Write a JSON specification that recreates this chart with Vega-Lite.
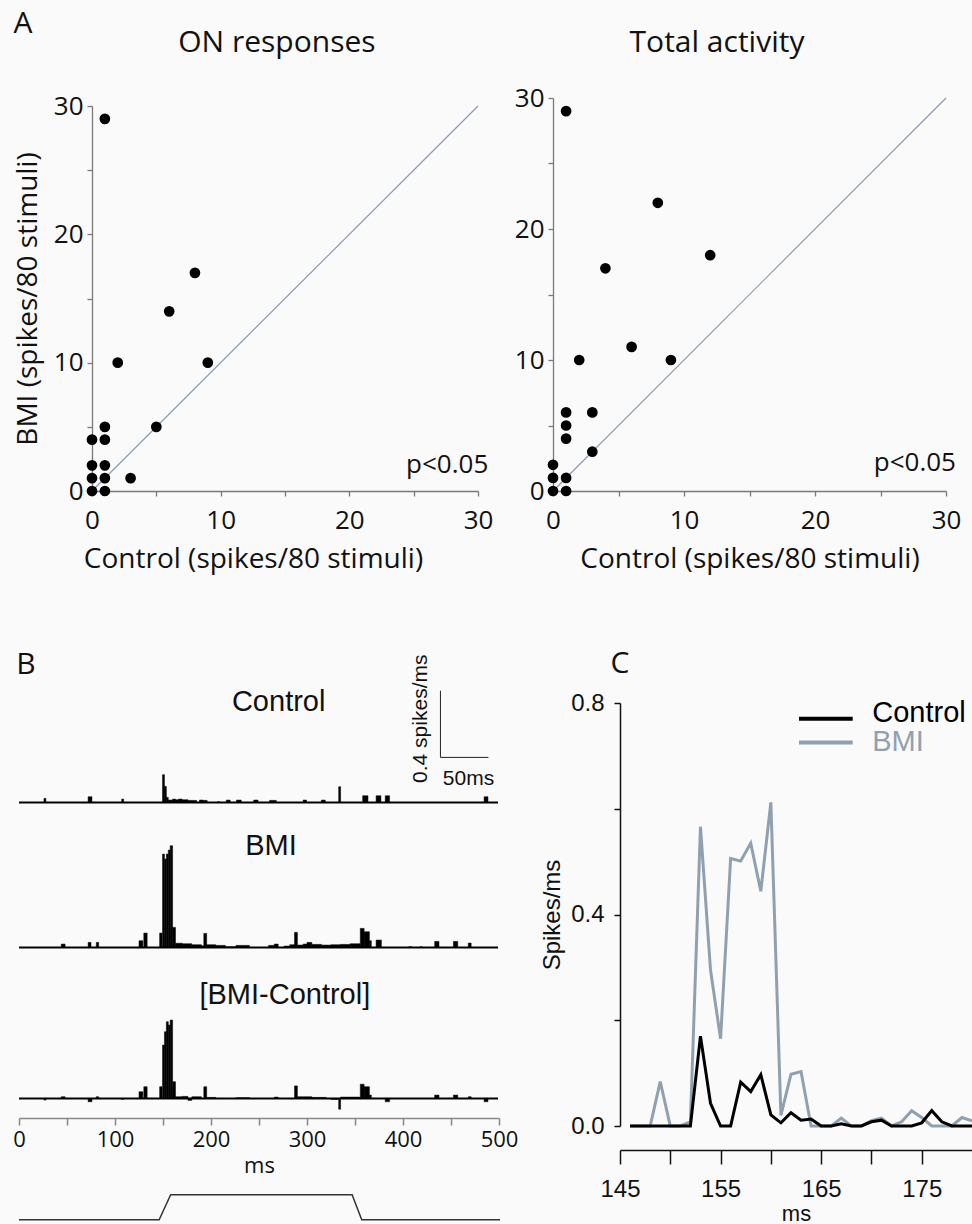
{
  "$schema": "https://vega.github.io/schema/vega-lite/v6.json",
  "background": "#fafafa",
  "padding": {"left": 12, "top": 8, "right": 0, "bottom": 0},
  "autosize": {"type": "pad"},
  "bounds": "flush",
  "columns": 2,
  "spacing": {"row": 212, "column": 54},
  "config": {
    "view": {"stroke": null},
    "font": "Open Sans",
    "axis": {"grid": false, "labelColor": "#111", "titleColor": "#111", "titleFontWeight": "normal", "labelOverlap": false, "labelFlush": false}
  },
  "datasets": {
    "on": [
      {"control": 1, "bmi": 29}, {"control": 8, "bmi": 17}, {"control": 6, "bmi": 14}, {"control": 2, "bmi": 10},
      {"control": 9, "bmi": 10}, {"control": 5, "bmi": 5}, {"control": 1, "bmi": 5}, {"control": 0, "bmi": 4},
      {"control": 1, "bmi": 4}, {"control": 0, "bmi": 2}, {"control": 1, "bmi": 2}, {"control": 0, "bmi": 1},
      {"control": 1, "bmi": 1}, {"control": 3, "bmi": 1}, {"control": 0, "bmi": 0}, {"control": 1, "bmi": 0}
    ],
    "total": [
      {"control": 1, "bmi": 29}, {"control": 8, "bmi": 22}, {"control": 12, "bmi": 18}, {"control": 4, "bmi": 17},
      {"control": 6, "bmi": 11}, {"control": 2, "bmi": 10}, {"control": 9, "bmi": 10}, {"control": 1, "bmi": 6},
      {"control": 3, "bmi": 6}, {"control": 1, "bmi": 5}, {"control": 1, "bmi": 4}, {"control": 3, "bmi": 3},
      {"control": 0, "bmi": 2}, {"control": 0, "bmi": 1}, {"control": 1, "bmi": 1}, {"control": 0, "bmi": 0},
      {"control": 1, "bmi": 0}
    ],
    "psth": [
      {"cond": "Control", "t0": 26, "t1": 28, "v": 0.024}, {"cond": "Control", "t0": 72, "t1": 76, "v": 0.034},
      {"cond": "Control", "t0": 107, "t1": 109, "v": 0.02}, {"cond": "Control", "t0": 149.5, "t1": 151.5, "v": 0.166},
      {"cond": "Control", "t0": 151.5, "t1": 153.5, "v": 0.096}, {"cond": "Control", "t0": 153.5, "t1": 155.5, "v": 0.03},
      {"cond": "Control", "t0": 155.5, "t1": 160, "v": 0.014}, {"cond": "Control", "t0": 160, "t1": 163, "v": 0.02},
      {"cond": "Control", "t0": 163, "t1": 166, "v": 0.016}, {"cond": "Control", "t0": 166, "t1": 170, "v": 0.02},
      {"cond": "Control", "t0": 170, "t1": 176, "v": 0.016}, {"cond": "Control", "t0": 176, "t1": 185, "v": 0.012},
      {"cond": "Control", "t0": 188, "t1": 192, "v": 0.014}, {"cond": "Control", "t0": 192, "t1": 196, "v": 0.012},
      {"cond": "Control", "t0": 207, "t1": 209, "v": 0.004}, {"cond": "Control", "t0": 216, "t1": 220, "v": 0.014},
      {"cond": "Control", "t0": 226.5, "t1": 231.5, "v": 0.014}, {"cond": "Control", "t0": 244.5, "t1": 249, "v": 0.014},
      {"cond": "Control", "t0": 261, "t1": 268, "v": 0.012}, {"cond": "Control", "t0": 296, "t1": 299.5, "v": 0.014},
      {"cond": "Control", "t0": 315, "t1": 319, "v": 0.014}, {"cond": "Control", "t0": 333, "t1": 335, "v": 0.094},
      {"cond": "Control", "t0": 358, "t1": 363.5, "v": 0.04}, {"cond": "Control", "t0": 372, "t1": 377, "v": 0.04},
      {"cond": "Control", "t0": 381.5, "t1": 386, "v": 0.04}, {"cond": "Control", "t0": 484.5, "t1": 488.5, "v": 0.034},
      {"cond": "BMI", "t0": 44, "t1": 48, "v": 0.02}, {"cond": "BMI", "t0": 72, "t1": 75, "v": 0.03},
      {"cond": "BMI", "t0": 80.5, "t1": 83, "v": 0.03}, {"cond": "BMI", "t0": 125, "t1": 129, "v": 0.04},
      {"cond": "BMI", "t0": 130, "t1": 133.5, "v": 0.086}, {"cond": "BMI", "t0": 146.5, "t1": 149, "v": 0.086},
      {"cond": "BMI", "t0": 149.5, "t1": 151.5, "v": 0.56}, {"cond": "BMI", "t0": 151.5, "t1": 153.5, "v": 0.53},
      {"cond": "BMI", "t0": 153.5, "t1": 155.5, "v": 0.56}, {"cond": "BMI", "t0": 155.5, "t1": 157.5, "v": 0.584},
      {"cond": "BMI", "t0": 157.5, "t1": 160, "v": 0.61}, {"cond": "BMI", "t0": 160, "t1": 163, "v": 0.12},
      {"cond": "BMI", "t0": 163, "t1": 170, "v": 0.025}, {"cond": "BMI", "t0": 170, "t1": 180, "v": 0.022},
      {"cond": "BMI", "t0": 180, "t1": 190, "v": 0.016}, {"cond": "BMI", "t0": 190, "t1": 192.5, "v": 0.01},
      {"cond": "BMI", "t0": 192.5, "t1": 195.5, "v": 0.084}, {"cond": "BMI", "t0": 195.5, "t1": 205, "v": 0.016},
      {"cond": "BMI", "t0": 205, "t1": 215, "v": 0.012}, {"cond": "BMI", "t0": 215, "t1": 226, "v": 0.004},
      {"cond": "BMI", "t0": 226, "t1": 240, "v": 0.012}, {"cond": "BMI", "t0": 260, "t1": 266, "v": 0.012},
      {"cond": "BMI", "t0": 266, "t1": 270, "v": 0.02}, {"cond": "BMI", "t0": 276, "t1": 282, "v": 0.008},
      {"cond": "BMI", "t0": 282, "t1": 287, "v": 0.016}, {"cond": "BMI", "t0": 287, "t1": 290, "v": 0.09},
      {"cond": "BMI", "t0": 290, "t1": 296, "v": 0.014}, {"cond": "BMI", "t0": 296, "t1": 300, "v": 0.02},
      {"cond": "BMI", "t0": 300, "t1": 305, "v": 0.03}, {"cond": "BMI", "t0": 305, "t1": 315, "v": 0.018},
      {"cond": "BMI", "t0": 315, "t1": 325, "v": 0.014}, {"cond": "BMI", "t0": 325, "t1": 335, "v": 0.016},
      {"cond": "BMI", "t0": 335, "t1": 345, "v": 0.018}, {"cond": "BMI", "t0": 345, "t1": 355.5, "v": 0.022},
      {"cond": "BMI", "t0": 355.5, "t1": 359.5, "v": 0.114}, {"cond": "BMI", "t0": 359.5, "t1": 365, "v": 0.094},
      {"cond": "BMI", "t0": 365, "t1": 367, "v": 0.04}, {"cond": "BMI", "t0": 372, "t1": 377.5, "v": 0.044},
      {"cond": "BMI", "t0": 406, "t1": 409, "v": 0.004}, {"cond": "BMI", "t0": 418, "t1": 420, "v": 0.004},
      {"cond": "BMI", "t0": 433, "t1": 437.5, "v": 0.036}, {"cond": "BMI", "t0": 452.5, "t1": 457, "v": 0.036},
      {"cond": "BMI", "t0": 468, "t1": 471, "v": 0.026},
      {"cond": "Diff", "t0": 26, "t1": 28, "v": -0.01}, {"cond": "Diff", "t0": 44, "t1": 48, "v": 0.01},
      {"cond": "Diff", "t0": 72, "t1": 76, "v": -0.02}, {"cond": "Diff", "t0": 80.5, "t1": 83, "v": 0.01},
      {"cond": "Diff", "t0": 107, "t1": 109, "v": -0.006}, {"cond": "Diff", "t0": 125, "t1": 129, "v": 0.04},
      {"cond": "Diff", "t0": 130, "t1": 133.5, "v": 0.07}, {"cond": "Diff", "t0": 146.5, "t1": 149, "v": 0.07},
      {"cond": "Diff", "t0": 149.5, "t1": 151.5, "v": 0.32}, {"cond": "Diff", "t0": 151.5, "t1": 153.5, "v": 0.4},
      {"cond": "Diff", "t0": 153.5, "t1": 155.5, "v": 0.46}, {"cond": "Diff", "t0": 155.5, "t1": 157.5, "v": 0.44},
      {"cond": "Diff", "t0": 157.5, "t1": 160, "v": 0.47}, {"cond": "Diff", "t0": 160, "t1": 163, "v": 0.1},
      {"cond": "Diff", "t0": 163, "t1": 170, "v": 0.01}, {"cond": "Diff", "t0": 170, "t1": 176, "v": 0.012},
      {"cond": "Diff", "t0": 176, "t1": 180, "v": -0.012}, {"cond": "Diff", "t0": 180, "t1": 190, "v": 0.01},
      {"cond": "Diff", "t0": 192.5, "t1": 195.5, "v": 0.07}, {"cond": "Diff", "t0": 195.5, "t1": 205, "v": 0.006},
      {"cond": "Diff", "t0": 226, "t1": 240, "v": 0.004}, {"cond": "Diff", "t0": 266, "t1": 270, "v": 0.008},
      {"cond": "Diff", "t0": 287, "t1": 290, "v": 0.075}, {"cond": "Diff", "t0": 290, "t1": 305, "v": 0.01},
      {"cond": "Diff", "t0": 305, "t1": 320, "v": 0.006}, {"cond": "Diff", "t0": 325, "t1": 332, "v": -0.006},
      {"cond": "Diff", "t0": 333, "t1": 335, "v": -0.065}, {"cond": "Diff", "t0": 335, "t1": 355, "v": 0.008},
      {"cond": "Diff", "t0": 355.5, "t1": 359.5, "v": 0.085}, {"cond": "Diff", "t0": 359.5, "t1": 365, "v": 0.07},
      {"cond": "Diff", "t0": 365, "t1": 367, "v": 0.02}, {"cond": "Diff", "t0": 381.5, "t1": 386, "v": -0.02},
      {"cond": "Diff", "t0": 433, "t1": 437.5, "v": 0.02}, {"cond": "Diff", "t0": 452.5, "t1": 457, "v": 0.02},
      {"cond": "Diff", "t0": 468, "t1": 471, "v": 0.01}, {"cond": "Diff", "t0": 484.5, "t1": 488.5, "v": -0.02}
    ],
    "psthc": [
      {"ms": 146, "cond": "Control", "rate": 0}, {"ms": 147, "cond": "Control", "rate": 0}, {"ms": 148, "cond": "Control", "rate": 0},
      {"ms": 149, "cond": "Control", "rate": 0}, {"ms": 150, "cond": "Control", "rate": 0}, {"ms": 151, "cond": "Control", "rate": 0},
      {"ms": 152, "cond": "Control", "rate": 0}, {"ms": 153, "cond": "Control", "rate": 0.17}, {"ms": 154, "cond": "Control", "rate": 0.043},
      {"ms": 155, "cond": "Control", "rate": 0}, {"ms": 156, "cond": "Control", "rate": 0}, {"ms": 157, "cond": "Control", "rate": 0.083},
      {"ms": 158, "cond": "Control", "rate": 0.065}, {"ms": 159, "cond": "Control", "rate": 0.097}, {"ms": 160, "cond": "Control", "rate": 0.021},
      {"ms": 161, "cond": "Control", "rate": 0.006}, {"ms": 162, "cond": "Control", "rate": 0.025}, {"ms": 163, "cond": "Control", "rate": 0.011},
      {"ms": 164, "cond": "Control", "rate": 0.013}, {"ms": 165, "cond": "Control", "rate": 0}, {"ms": 166, "cond": "Control", "rate": 0},
      {"ms": 167, "cond": "Control", "rate": 0.004}, {"ms": 168, "cond": "Control", "rate": 0}, {"ms": 169, "cond": "Control", "rate": 0},
      {"ms": 170, "cond": "Control", "rate": 0.008}, {"ms": 171, "cond": "Control", "rate": 0.011}, {"ms": 172, "cond": "Control", "rate": 0},
      {"ms": 173, "cond": "Control", "rate": 0}, {"ms": 174, "cond": "Control", "rate": 0}, {"ms": 175, "cond": "Control", "rate": 0.006},
      {"ms": 176, "cond": "Control", "rate": 0.029}, {"ms": 177, "cond": "Control", "rate": 0.008}, {"ms": 178, "cond": "Control", "rate": 0},
      {"ms": 179, "cond": "Control", "rate": 0}, {"ms": 180, "cond": "Control", "rate": 0},
      {"ms": 146, "cond": "BMI", "rate": 0}, {"ms": 147, "cond": "BMI", "rate": 0}, {"ms": 148, "cond": "BMI", "rate": 0},
      {"ms": 149, "cond": "BMI", "rate": 0.084}, {"ms": 150, "cond": "BMI", "rate": 0}, {"ms": 151, "cond": "BMI", "rate": 0},
      {"ms": 152, "cond": "BMI", "rate": 0.008}, {"ms": 153, "cond": "BMI", "rate": 0.566}, {"ms": 154, "cond": "BMI", "rate": 0.295},
      {"ms": 155, "cond": "BMI", "rate": 0.165}, {"ms": 156, "cond": "BMI", "rate": 0.506}, {"ms": 157, "cond": "BMI", "rate": 0.501},
      {"ms": 158, "cond": "BMI", "rate": 0.535}, {"ms": 159, "cond": "BMI", "rate": 0.444}, {"ms": 160, "cond": "BMI", "rate": 0.612},
      {"ms": 161, "cond": "BMI", "rate": 0.02}, {"ms": 162, "cond": "BMI", "rate": 0.098}, {"ms": 163, "cond": "BMI", "rate": 0.103},
      {"ms": 164, "cond": "BMI", "rate": 0}, {"ms": 165, "cond": "BMI", "rate": 0}, {"ms": 166, "cond": "BMI", "rate": 0},
      {"ms": 167, "cond": "BMI", "rate": 0.015}, {"ms": 168, "cond": "BMI", "rate": 0}, {"ms": 169, "cond": "BMI", "rate": 0},
      {"ms": 170, "cond": "BMI", "rate": 0.01}, {"ms": 171, "cond": "BMI", "rate": 0.015}, {"ms": 172, "cond": "BMI", "rate": 0},
      {"ms": 173, "cond": "BMI", "rate": 0.008}, {"ms": 174, "cond": "BMI", "rate": 0.029}, {"ms": 175, "cond": "BMI", "rate": 0.016},
      {"ms": 176, "cond": "BMI", "rate": 0}, {"ms": 177, "cond": "BMI", "rate": 0}, {"ms": 178, "cond": "BMI", "rate": 0},
      {"ms": 179, "cond": "BMI", "rate": 0.016}, {"ms": 180, "cond": "BMI", "rate": 0.01}
    ],
    "stim": [
      {"ms": 0, "level": 0}, {"ms": 146, "level": 0}, {"ms": 158, "level": 1},
      {"ms": 347, "level": 1}, {"ms": 357, "level": 0}, {"ms": 501, "level": 0}
    ]
  },
  "concat": [
    {
      "width": 459,
      "height": 393,
      "layer": [
        {
          "data": {"values": [{}]},
          "mark": {"type": "rule", "color": "#8a9bb0", "strokeWidth": 1.2},
          "encoding": {"x": {"datum": 0, "type": "quantitative"}, "y": {"datum": 0, "type": "quantitative"}, "x2": {"datum": 30}, "y2": {"datum": 30}}
        },
        {
          "data": {"name": "on"},
          "mark": {"type": "circle", "color": "black", "opacity": 1, "size": 115},
          "encoding": {
            "x": {"field": "control", "type": "quantitative", "scale": {"domain": [0, 30], "range": [73, 459]},
              "axis": {"values": [0, 5, 10, 15, 20, 25, 30], "labelExpr": "datum.value % 10 === 0 ? datum.label : ''", "title": "Control (spikes/80 stimuli)",
                "tickSize": 5, "domainColor": "#7a7a7a", "tickColor": "#7a7a7a", "domainWidth": 1.3, "tickWidth": 1.3,
                "labelFontSize": 26, "labelPadding": 11, "titleFontSize": 28, "titlePadding": 12, "titleX": 234}},
            "y": {"field": "bmi", "type": "quantitative", "scale": {"domain": [0, 30], "range": [393, 8]},
              "axis": {"values": [0, 5, 10, 15, 20, 25, 30], "labelExpr": "datum.value % 10 === 0 ? datum.label : ''", "title": "BMI (spikes/80 stimuli)",
                "offset": -73, "tickSize": 5, "domainColor": "#7a7a7a", "tickColor": "#7a7a7a", "domainWidth": 1.3, "tickWidth": 1.3,
                "labelFontSize": 26, "labelPadding": 4, "titleFontSize": 28, "titlePadding": 11}}
          }
        },
        {
          "data": {"values": [{}]},
          "mark": {"type": "text", "text": "p<0.05", "align": "right", "baseline": "alphabetic", "fontSize": 26, "font": "Open Sans", "color": "#111", "clip": false},
          "encoding": {"x": {"datum": 30.8, "type": "quantitative"}, "y": {"datum": 1.4, "type": "quantitative"}}
        },
        {
          "data": {"values": [{}]},
          "mark": {"type": "text", "text": "ON responses", "align": "center", "baseline": "alphabetic", "fontSize": 30, "font": "Open Sans", "color": "#111", "clip": false},
          "encoding": {"x": {"datum": 14.37, "type": "quantitative"}, "y": {"datum": 34.2, "type": "quantitative"}}
        },
        {
          "data": {"values": [{}]},
          "mark": {"type": "text", "text": "A", "align": "center", "baseline": "middle", "fontSize": 30, "font": "Open Sans", "color": "#111", "clip": false},
          "encoding": {"x": {"datum": -5.36, "type": "quantitative"}, "y": {"datum": 36.4, "type": "quantitative"}}
        }
      ]
    },
    {
      "width": 393,
      "height": 393,
      "layer": [
        {
          "data": {"values": [{}]},
          "mark": {"type": "rule", "color": "#8a9bb0", "strokeWidth": 1.2},
          "encoding": {"x": {"datum": 0, "type": "quantitative"}, "y": {"datum": 0, "type": "quantitative"}, "x2": {"datum": 30}, "y2": {"datum": 30}}
        },
        {
          "data": {"name": "total"},
          "mark": {"type": "circle", "color": "black", "opacity": 1, "size": 115},
          "encoding": {
            "x": {"field": "control", "type": "quantitative", "scale": {"domain": [0, 30]},
              "axis": {"values": [0, 5, 10, 15, 20, 25, 30], "labelExpr": "datum.value % 10 === 0 ? datum.label : ''", "title": "Control (spikes/80 stimuli)",
                "tickSize": 5, "domainColor": "#7a7a7a", "tickColor": "#7a7a7a", "domainWidth": 1.3, "tickWidth": 1.3,
                "labelFontSize": 26, "labelPadding": 11, "titleFontSize": 28, "titlePadding": 12}},
            "y": {"field": "bmi", "type": "quantitative", "scale": {"domain": [0, 30]},
              "axis": {"values": [0, 5, 10, 15, 20, 25, 30], "labelExpr": "datum.value % 10 === 0 ? datum.label : ''", "title": null,
                "tickSize": 5, "domainColor": "#7a7a7a", "tickColor": "#7a7a7a", "domainWidth": 1.3, "tickWidth": 1.3,
                "labelFontSize": 26, "labelPadding": 4}}
          }
        },
        {
          "data": {"values": [{}]},
          "mark": {"type": "text", "text": "p<0.05", "align": "right", "baseline": "alphabetic", "fontSize": 26, "font": "Open Sans", "color": "#111", "clip": false},
          "encoding": {"x": {"datum": 30.76, "type": "quantitative"}, "y": {"datum": 1.53, "type": "quantitative"}}
        },
        {
          "data": {"values": [{}]},
          "mark": {"type": "text", "text": "Total activity", "align": "center", "baseline": "alphabetic", "fontSize": 30, "font": "Open Sans", "color": "#111", "clip": false},
          "encoding": {"x": {"datum": 12.52, "type": "quantitative"}, "y": {"datum": 33.5, "type": "quantitative"}}
        }
      ]
    },
    {
      "width": 480,
      "height": 517,
      "resolve": {"scale": {"y": "independent"}, "axis": {"y": "independent"}},
      "layer": [
        {
          "layer": [
            {
              "data": {"name": "psth"},
              "transform": [{"filter": "datum.cond === 'Control'"}],
              "mark": {"type": "bar", "color": "black", "stroke": "black", "strokeWidth": 0.5},
              "encoding": {
                "x": {"field": "t0", "type": "quantitative", "scale": {"domain": [0, 500]}},
                "x2": {"field": "t1"},
                "y": {"field": "v", "type": "quantitative", "scale": {"domain": [0, 0.6], "range": [99.4, -0.6]}, "axis": null},
                "y2": {"datum": 0}
              }
            },
            {
              "data": {"values": [{}]},
              "mark": {"type": "rule", "color": "black", "strokeWidth": 2},
              "encoding": {"x": {"datum": 0, "type": "quantitative"}, "x2": {"datum": 499}, "y": {"datum": 0, "type": "quantitative", "axis": null}}
            },
            {
              "data": {"values": [{}]},
              "mark": {"type": "rule", "color": "#222", "strokeWidth": 1, "clip": false},
              "encoding": {"x": {"datum": 439, "type": "quantitative"}, "y": {"datum": 0.27, "type": "quantitative", "axis": null}, "y2": {"datum": 0.67}}
            },
            {
              "data": {"values": [{}]},
              "mark": {"type": "rule", "color": "#222", "strokeWidth": 1, "clip": false},
              "encoding": {"x": {"datum": 439, "type": "quantitative"}, "x2": {"datum": 489}, "y": {"datum": 0.27, "type": "quantitative", "axis": null}}
            },
            {
              "data": {"values": [{}]},
              "mark": {"type": "text", "text": "0.4 spikes/ms", "angle": 270, "align": "center", "baseline": "middle", "fontSize": 21, "font": "Liberation Sans", "color": "#111", "clip": false},
              "encoding": {"x": {"datum": 418.5, "type": "quantitative"}, "y": {"datum": 0.502, "type": "quantitative", "axis": null}}
            },
            {
              "data": {"values": [{}]},
              "mark": {"type": "text", "text": "50ms", "align": "center", "baseline": "middle", "fontSize": 21, "font": "Liberation Sans", "color": "#111", "clip": false},
              "encoding": {"x": {"datum": 468.2, "type": "quantitative"}, "y": {"datum": 0.138, "type": "quantitative", "axis": null}}
            },
            {
              "data": {"values": [{}]},
              "mark": {"type": "text", "text": "Control", "align": "center", "baseline": "middle", "fontSize": 29, "font": "Liberation Sans", "color": "#111", "clip": false},
              "encoding": {"x": {"datum": 270.5, "type": "quantitative"}, "y": {"datum": 0.602, "type": "quantitative", "axis": null}}
            },
            {
              "data": {"values": [{}]},
              "mark": {"type": "text", "text": "B", "align": "center", "baseline": "middle", "fontSize": 30, "font": "Open Sans", "color": "#111", "clip": false},
              "encoding": {"x": {"datum": 7.3, "type": "quantitative"}, "y": {"datum": 0.825, "type": "quantitative", "axis": null}}
            }
          ]
        },
        {
          "layer": [
            {
              "data": {"name": "psth"},
              "transform": [{"filter": "datum.cond === 'BMI'"}],
              "mark": {"type": "bar", "color": "black", "stroke": "black", "strokeWidth": 0.5},
              "encoding": {
                "x": {"field": "t0", "type": "quantitative", "scale": {"domain": [0, 500]}},
                "x2": {"field": "t1"},
                "y": {"field": "v", "type": "quantitative", "scale": {"domain": [0, 0.6], "range": [244.4, 144.4]}, "axis": null},
                "y2": {"datum": 0}
              }
            },
            {
              "data": {"values": [{}]},
              "mark": {"type": "rule", "color": "black", "strokeWidth": 2},
              "encoding": {"x": {"datum": 0, "type": "quantitative"}, "x2": {"datum": 499}, "y": {"datum": 0, "type": "quantitative", "axis": null}}
            },
            {
              "data": {"values": [{}]},
              "mark": {"type": "text", "text": "BMI", "align": "center", "baseline": "middle", "fontSize": 29, "font": "Liberation Sans", "color": "#111", "clip": false},
              "encoding": {"x": {"datum": 262.5, "type": "quantitative"}, "y": {"datum": 0.606, "type": "quantitative", "axis": null}}
            }
          ]
        },
        {
          "layer": [
            {
              "data": {"name": "psth"},
              "transform": [{"filter": "datum.cond === 'Diff'"}],
              "mark": {"type": "bar", "color": "black", "stroke": "black", "strokeWidth": 0.5},
              "encoding": {
                "x": {"field": "t0", "type": "quantitative", "scale": {"domain": [0, 500]},
                  "axis": {"values": [0, 50, 100, 150, 200, 250, 300, 350, 400, 450, 500], "labelExpr": "datum.value % 100 === 0 ? datum.label : ''", "title": "ms",
                    "offset": -102, "tickSize": 7, "domainColor": "#888", "tickColor": "#888", "domainWidth": 1.5, "tickWidth": 1.5,
                    "labelFontSize": 22, "labelPadding": 4, "titleFontSize": 22, "titlePadding": 5}},
                "x2": {"field": "t1"},
                "y": {"field": "v", "type": "quantitative", "scale": {"domain": [0, 0.6], "range": [395.4, 295.4]}, "axis": null},
                "y2": {"datum": 0}
              }
            },
            {
              "data": {"values": [{}]},
              "mark": {"type": "rule", "color": "black", "strokeWidth": 2},
              "encoding": {"x": {"datum": 0, "type": "quantitative"}, "x2": {"datum": 499}, "y": {"datum": 0, "type": "quantitative", "axis": null}}
            },
            {
              "data": {"values": [{}]},
              "mark": {"type": "text", "text": "[BMI-Control]", "align": "center", "baseline": "middle", "fontSize": 29, "font": "Liberation Sans", "color": "#111", "clip": false},
              "encoding": {"x": {"datum": 276.9, "type": "quantitative"}, "y": {"datum": 0.621, "type": "quantitative", "axis": null}}
            }
          ]
        },
        {
          "data": {"name": "stim"},
          "mark": {"type": "line", "color": "#333", "strokeWidth": 1.5},
          "encoding": {
            "x": {"field": "ms", "type": "quantitative"},
            "y": {"field": "level", "type": "quantitative", "scale": {"domain": [0, 1], "range": [516.7, 491.7]}, "axis": null}
          }
        }
      ]
    },
    {
      "width": 419,
      "height": 423,
      "layer": [
        {
          "data": {"name": "psthc"},
          "transform": [{"filter": "datum.cond === 'BMI'"}],
          "mark": {"type": "line", "strokeWidth": 3},
          "encoding": {
            "x": {"field": "ms", "type": "quantitative", "scale": {"domain": [145, 179.62], "range": [67, 419], "clamp": true},
              "axis": {"values": [145, 150, 155, 160, 165, 170, 175], "labelExpr": "datum.value % 10 === 5 ? datum.label : ''", "title": "ms",
                "offset": 24, "tickSize": 14, "domainColor": "#111", "tickColor": "#111", "domainWidth": 1.5, "tickWidth": 1.5,
                "labelFont": "Liberation Sans", "labelFontSize": 24, "labelPadding": 13, "titleFont": "Liberation Sans", "titleFontSize": 22, "titlePadding": 2, "titleX": 243}},
            "y": {"field": "rate", "type": "quantitative", "scale": {"domain": [0, 0.8]},
              "axis": {"values": [0, 0.2, 0.4, 0.6, 0.8], "labelExpr": "(datum.value === 0 || datum.value === 0.4 || datum.value === 0.8) ? format(datum.value, '.1f') : ''", "title": "Spikes/ms",
                "offset": -67, "tickSize": 6, "domainColor": "#111", "tickColor": "#111", "domainWidth": 1.5, "tickWidth": 1.5,
                "labelFont": "Liberation Sans", "labelFontSize": 24, "labelPadding": 10, "titleFont": "Liberation Sans", "titleFontSize": 24, "titlePadding": 6}},
            "color": {"field": "cond", "type": "nominal", "scale": {"domain": ["Control", "BMI"], "range": ["#000000", "#8fa1b1"]}, "legend": null}
          }
        },
        {
          "data": {"name": "psthc"},
          "transform": [{"filter": "datum.cond === 'Control'"}],
          "mark": {"type": "line", "strokeWidth": 3},
          "encoding": {
            "x": {"field": "ms", "type": "quantitative"},
            "y": {"field": "rate", "type": "quantitative"},
            "color": {"field": "cond", "type": "nominal", "legend": null}
          }
        },
        {
          "data": {"values": [{}]},
          "mark": {"type": "rule", "color": "#000000", "strokeWidth": 4, "clip": false},
          "encoding": {"x": {"datum": 162.8, "type": "quantitative"}, "x2": {"datum": 168.14}, "y": {"datum": 0.77, "type": "quantitative"}}
        },
        {
          "data": {"values": [{}]},
          "mark": {"type": "rule", "color": "#8fa1b1", "strokeWidth": 4, "clip": false},
          "encoding": {"x": {"datum": 162.8, "type": "quantitative"}, "x2": {"datum": 168.14}, "y": {"datum": 0.7255, "type": "quantitative"}}
        },
        {
          "data": {"values": [{}]},
          "mark": {"type": "text", "text": "Control", "align": "left", "baseline": "middle", "fontSize": 29, "font": "Liberation Sans", "color": "#000000", "clip": false},
          "encoding": {"x": {"datum": 170.08, "type": "quantitative"}, "y": {"datum": 0.782, "type": "quantitative"}}
        },
        {
          "data": {"values": [{}]},
          "mark": {"type": "text", "text": "BMI", "align": "left", "baseline": "middle", "fontSize": 29, "font": "Liberation Sans", "color": "#8fa1b1", "clip": false},
          "encoding": {"x": {"datum": 170.08, "type": "quantitative"}, "y": {"datum": 0.7257, "type": "quantitative"}}
        },
        {
          "data": {"values": [{}]},
          "mark": {"type": "text", "text": "C", "align": "center", "baseline": "middle", "fontSize": 30, "font": "Open Sans", "color": "#111", "clip": false},
          "encoding": {"x": {"datum": 138.46, "type": "quantitative"}, "y": {"datum": 0.8735, "type": "quantitative"}}
        }
      ]
    }
  ]
}
